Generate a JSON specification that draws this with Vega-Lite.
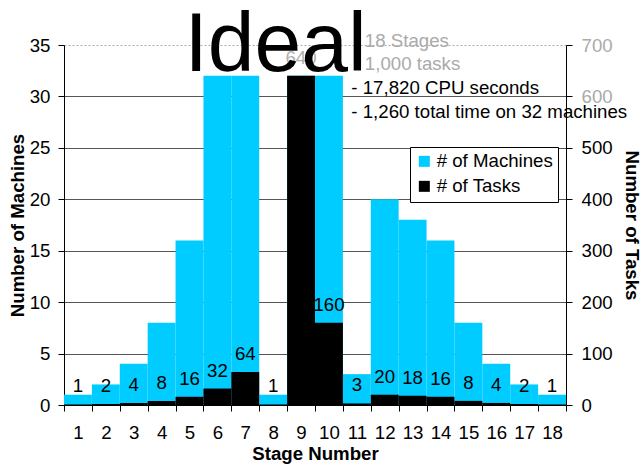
{
  "$schema": "https://vega.github.io/schema/vega-lite/v6.json",
  "width": 502,
  "height": 360,
  "autosize": {"type": "none"},
  "padding": {"left": 64, "top": 45, "right": 75, "bottom": 61},
  "background": "white",
  "config": {
    "font": "Liberation Sans",
    "view": {"stroke": null},
    "axis": {
      "labelFont": "Liberation Sans",
      "titleFont": "Liberation Sans",
      "labelFontSize": 18.67,
      "titleFontSize": 18.67,
      "titleFontWeight": "bold",
      "labelColor": "black",
      "titleColor": "black",
      "domainColor": "black",
      "tickColor": "black",
      "tickSize": 6
    },
    "text": {"font": "Liberation Sans", "fontSize": 18.67}
  },
  "data": {
    "values": [
      {"stage": 1, "machines": 1, "tasks": 1},
      {"stage": 2, "machines": 2, "tasks": 2},
      {"stage": 3, "machines": 4, "tasks": 4},
      {"stage": 4, "machines": 8, "tasks": 8},
      {"stage": 5, "machines": 16, "tasks": 16},
      {"stage": 6, "machines": 32, "tasks": 32},
      {"stage": 7, "machines": 32, "tasks": 64},
      {"stage": 8, "machines": 1, "tasks": 1},
      {"stage": 9, "machines": 32, "tasks": 640},
      {"stage": 10, "machines": 32, "tasks": 160},
      {"stage": 11, "machines": 3, "tasks": 3},
      {"stage": 12, "machines": 20, "tasks": 20},
      {"stage": 13, "machines": 18, "tasks": 18},
      {"stage": 14, "machines": 16, "tasks": 16},
      {"stage": 15, "machines": 8, "tasks": 8},
      {"stage": 16, "machines": 4, "tasks": 4},
      {"stage": 17, "machines": 2, "tasks": 2},
      {"stage": 18, "machines": 1, "tasks": 1}
    ]
  },
  "layer": [
    {
      "layer": [
        {
          "mark": {"type": "bar"},
          "encoding": {
            "x": {
              "field": "stage", "type": "ordinal",
              "scale": {"paddingInner": 0, "paddingOuter": 0},
              "axis": {
                "title": "Stage Number",
                "labelAngle": 0,
                "tickBand": "extent",
                "labelPadding": 12,
                "titlePadding": 3
              }
            },
            "y": {
              "field": "machines", "type": "quantitative",
              "scale": {"domain": [0, 35], "nice": false},
              "axis": {
                "title": "Number of Machines",
                "orient": "left",
                "values": [0, 5, 10, 15, 20, 25, 30, 35],
                "grid": true,
                "gridColor": {"condition": {"test": "datum.value === 35", "value": "#aaaaaa"}, "value": "#555555"},
                "gridDash": {"condition": {"test": "datum.value === 35", "value": [2, 2]}, "value": []},
                "labelPadding": 8,
                "titlePadding": 2
              }
            },
            "color": {
              "datum": "# of Machines",
              "scale": {"domain": ["# of Machines", "# of Tasks"], "range": ["#00CCFF", "#000000"]},
              "legend": {
                "title": null,
                "orient": "none",
                "legendX": 346,
                "legendY": 102,
                "strokeColor": "black",
                "fillColor": "white",
                "padding": 5,
                "symbolType": "square",
                "symbolSize": 121,
                "symbolStrokeWidth": 0,
                "labelFont": "Liberation Sans",
                "labelFontSize": 18.67,
                "labelColor": "black",
                "labelOffset": 3,
                "rowPadding": 5
              }
            }
          }
        }
      ]
    },
    {
      "layer": [
        {
          "mark": {"type": "bar"},
          "encoding": {
            "x": {"field": "stage", "type": "ordinal"},
            "y": {
              "field": "tasks", "type": "quantitative",
              "scale": {"domain": [0, 700], "nice": false},
              "axis": {
                "title": "Number of Tasks",
                "orient": "right",
                "values": [0, 100, 200, 300, 400, 500, 600, 700],
                "grid": false,
                "labelColor": {"condition": {"test": "datum.value >= 600", "value": "#aaaaaa"}, "value": "black"},
                "labelPadding": 9,
                "titlePadding": 9
              }
            },
            "color": {"datum": "# of Tasks"}
          }
        },
        {
          "transform": [{"filter": "datum.stage !== 9"}],
          "mark": {"type": "text", "baseline": "alphabetic", "dy": -12, "color": "black"},
          "encoding": {
            "x": {"field": "stage", "type": "ordinal"},
            "y": {"field": "tasks", "type": "quantitative"},
            "text": {"field": "tasks", "type": "quantitative"}
          }
        },
        {
          "transform": [{"filter": "datum.stage === 9"}],
          "mark": {"type": "text", "baseline": "alphabetic", "dy": -12, "color": "#b0b0b0"},
          "encoding": {
            "x": {"field": "stage", "type": "ordinal"},
            "y": {"field": "tasks", "type": "quantitative"},
            "text": {"field": "tasks", "type": "quantitative"}
          }
        },
        {
          "data": {"values": [{}]},
          "mark": {"type": "text", "align": "left", "baseline": "alphabetic", "fontSize": 84, "dx": -5, "dy": 26, "color": "black"},
          "encoding": {
            "x": {"datum": 5, "type": "ordinal"},
            "y": {"datum": 700, "type": "quantitative"},
            "text": {"value": "Ideal"}
          }
        },
        {
          "data": {"values": [{}]},
          "mark": {"type": "text", "align": "left", "baseline": "alphabetic", "dx": 8, "dy": 2, "lineHeight": 22.5, "color": "#aaaaaa"},
          "encoding": {
            "x": {"datum": 11, "type": "ordinal"},
            "y": {"datum": 700, "type": "quantitative"},
            "text": {"value": ["18 Stages", "1,000 tasks"]}
          }
        },
        {
          "data": {"values": [{}]},
          "mark": {"type": "text", "align": "left", "baseline": "alphabetic", "dx": -5.5, "dy": 49, "lineHeight": 24.3, "color": "black"},
          "encoding": {
            "x": {"datum": 11, "type": "ordinal"},
            "y": {"datum": 700, "type": "quantitative"},
            "text": {"value": ["- 17,820 CPU seconds", "- 1,260 total time on 32 machines"]}
          }
        }
      ]
    }
  ],
  "resolve": {"scale": {"y": "independent"}}
}
